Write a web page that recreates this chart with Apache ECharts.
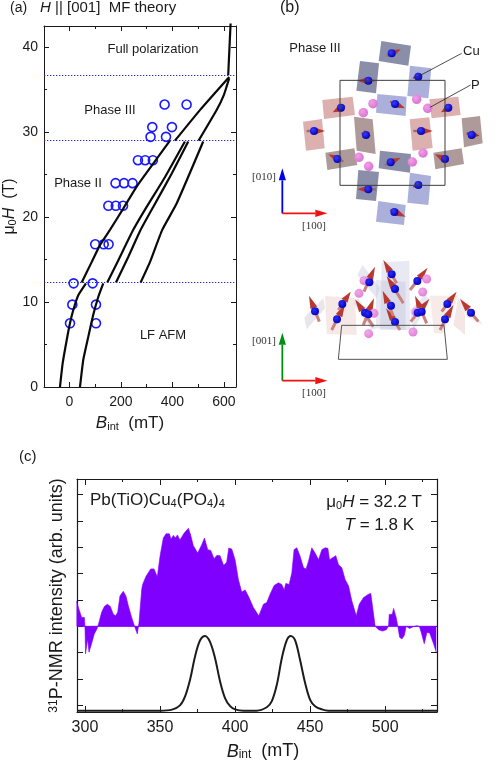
<!DOCTYPE html>
<html>
<head>
<meta charset="utf-8">
<title>Pb(TiO)Cu4(PO4)4 MF theory and NMR</title>
<script src="https://cdn.jsdelivr.net/npm/echarts@6/dist/echarts.min.js"></script>
<style>
  html, body { margin: 0; padding: 0; background: #fff; }
  #chart { width: 499px; height: 762px; }
</style>
</head>
<body>
<div id="chart"></div>
<script>
/******** panel (a) : B_int (mT), mu0H (T) ********/
const nmrPeaks = [
  [369.6, 33.25], [455, 33.25], [321.7, 30.6], [398, 30.6], [315, 29.45], [375, 29.45],
  [266, 26.7], [294, 26.7], [324, 26.7], [179, 24], [212, 24], [245, 24],
  [151, 21.33], [180, 21.33], [208, 21.33], [100, 16.8], [133, 16.8], [152, 16.8],
  [16, 12.2], [90, 12.2], [11, 9.7], [103, 9.7], [2, 7.5], [103, 7.5]
]
const fieldLines = [36.7, 29, 12.3]
const lowA = [[-36.9, 0], [-26.4, 2.8], [-10.9, 5.5], [1.9, 7.5], [14.8, 9.06], [34.2, 10.8], [64, 12.2]]
const lowB = [[40.8, 0], [53.6, 3.2], [73, 5.9], [92.4, 8.5], [111.8, 10.6], [131.3, 12.2]]
const midA = [[47.4, 12.3], [86.2, 14.7], [118.4, 16.7], [157.3, 18.5], [208.9, 21], [261, 23.6], [325.4, 26.3], [390.3, 29]]
const midB = [[146.8, 12.3], [189.5, 14.9], [247.8, 18.5], [299.8, 21.2], [370.9, 24.7], [448.5, 28.9]]
const midC = [[180.6, 12.3], [228.3, 15.3], [276.5, 18.5], [325.4, 21.2], [396.9, 25.1], [461.4, 28.9]]
const midD = [[276.5, 12.3], [312.6, 14.7], [360.4, 18.5], [416.3, 21.6], [519.6, 28.9]]
const highA = [[409.7, 29], [506.8, 32.6], [620.6, 36.5]]
const highB = [[501.7, 29], [571.7, 32.6], [600, 34.4], [620.6, 36.35]]
const topLine = [[616.7, 36.7], [619.4, 38.5], [626, 42.8]]

const aXTicks = [0, 200, 400, 600]
const aXMinorTicks = [100, 300, 500]
const aYTicks = [0, 10, 20, 30, 40]
const aYMinorTicks = [5, 15, 25, 35]

/******** panel (c) : B_int (mT), intensity measured from the zero line ********/
const measured = [
  [294.4, .965], [296, .65], [297.8, .34], [299.6, .34], [300, 0], [300.4, -1.04], [301.8, -.48], [302.7, -.98],
  [304.4, -.66], [306.2, -.29], [308, -.1], [309.3, .15], [311.1, .53], [312.9, .75], [314.9, .84], [316.9, .75],
  [318.9, .46], [320.4, .4], [321.8, .53], [323.3, 1.15], [325.5, 1.33], [327.3, 1.15], [328.9, .78], [331.1, .34],
  [333.3, -.04], [334.9, -.29], [336, .15], [337.8, 1.4], [338.4, 1.59], [340.7, 1.9], [343.8, 2.18], [346, 2.18],
  [348.2, 1.88], [350, 2.66], [352.2, 3.35], [354, 3.51], [356.2, 3.51], [357.3, 3.31], [358.9, 3.45], [360.2, 3.35],
  [361.6, 3.47], [363.3, 3.28], [366, 3.53], [368.9, 3.72], [370.4, 3.47], [372.2, 3.06], [375.1, 2.78], [377.8, 3.1],
  [379.6, 3.35], [380.7, 3.35], [381.8, 2.91], [383.8, 2.88], [386, 2.56], [387.8, 2.69], [390, 2.68], [392.4, 2.31],
  [394.4, 2.43], [395.8, 2.97], [397.8, 2.93], [400, 2.53], [402.2, 1.78], [404.4, 1.3], [406.7, 1.38], [409.3, 1.09],
  [412.2, .71], [415.8, .4], [418.9, .84], [421.1, .9], [423.3, 1.22], [426, 1.55], [428.9, 1.65], [431.1, 1.59],
  [432.7, 1.38], [433.8, 1.63], [436, 1.59], [437.8, 2.03], [439.3, 2.91], [441.1, 2.98], [443.3, 2.66], [445.6, 2.22],
  [447.3, 2.18], [448.9, 2.47], [451.1, 2.98], [453.3, 2.78], [455.6, 2.53], [457.8, 2.91], [460, 2.98], [461.8, 2.96],
  [462.9, 2.53], [467.1, 2.68], [468.9, 2.34], [471.1, 2.22], [473.3, 1.78], [475.6, 1.53], [477.8, .96], [480.7, .4],
  [481.6, .36], [482.7, .84], [485.6, 1.09], [488.9, 1.22], [490.4, 1.25], [491.8, .65], [493.3, 0], [495.6, -.13],
  [498.2, -.18], [500.7, -.13], [502.2, 0], [502.7, .45], [504.7, .46], [505.6, .68], [507.3, .34], [508.4, 0],
  [509.6, -.41], [511.1, -.48], [512.7, -.35], [514, 0], [514.9, .05], [516.2, -.08], [518.9, -.01], [521.1, .02],
  [522.7, 0], [524, -.23], [526, -.66], [527.8, -.23], [529.6, -.25], [532.2, -.66], [534, -.98]
]
const simulated = [
  [294.7, -3.2], [350, -3.2], [358, -3.16], [363.3, -3], [366.7, -2.66], [370, -2.03], [373.3, -1.15], [376.7, -.53],
  [380, -.365], [383.3, -.59], [386.7, -1.22], [390, -2.09], [393.3, -2.72], [396.7, -3.03], [400, -3.15], [405.6, -3.2],
  [414.4, -3.2], [421.1, -3.07], [424.4, -2.85], [427.8, -2.22], [431.1, -1.22], [434.4, -.53], [437.1, -.365], [440, -.53],
  [443.3, -1.28], [446.7, -2.16], [450, -2.79], [453.3, -3.03], [457.8, -3.15], [462.2, -3.2], [534.5, -3.2]
]
const zeroLine = [[294.7, 0], [534.5, 0]]

const cXTicks = [300, 350, 400, 450, 500]
const cXMinorTicks = [325, 375, 425, 475, 525]
const cYTicks = [-3, -2, -1, 0, 1, 2, 3, 4, 5]

/******** panel (b), in the units of its own hidden axes ********/
const topSlabs = [
  [424, 123, 513, 137, 505, 197, 416, 183], [360, 183, 417, 190, 408, 280, 349, 272],
  [510, 197, 574, 205, 565, 295, 502, 288], [412, 282, 500, 290, 497, 348, 408, 338],
  [247, 300, 338, 290, 345, 345, 252, 357], [568, 298, 655, 290, 662, 345, 575, 355],
  [189, 365, 246, 357, 254, 445, 198, 452], [342, 350, 398, 358, 407, 462, 350, 452],
  [509, 358, 568, 352, 578, 444, 518, 452], [665, 355, 720, 348, 728, 430, 672, 442],
  [256, 458, 343, 445, 352, 495, 262, 510], [580, 458, 665, 445, 672, 492, 586, 508],
  [420, 452, 513, 462, 510, 518, 416, 505], [355, 510, 417, 516, 408, 603, 348, 597],
  [510, 518, 573, 528, 565, 615, 502, 608], [415, 603, 497, 615, 492, 675, 408, 665]
]
const topSlabColors = [
  '#8b8ea8', '#8b8ea8', '#abb0db', '#abb0db', '#dcb0ae', '#dcb0ae', '#dcb0ae', '#ae9a98',
  '#dcb0ae', '#ae9a98', '#ae9a98', '#ae9a98', '#8b8ea8', '#8b8ea8', '#abb0db', '#abb0db'
]
const topCell = [[300, 241], [615, 241], [615, 556], [300, 556], [300, 241]]
const topCu = [
  [455, 160], [385, 242], [535, 230], [465, 312], [303, 323], [625, 323], [222, 393], [378, 405],
  [543, 393], [695, 405], [292, 477], [615, 477], [452, 487], [385, 568], [535, 555], [463, 636]
]
const topP = [[399, 311], [370, 338], [530, 298], [563, 325], [357, 472], [386, 499], [549, 459], [517, 486]]
const topMoments = [
  [440, 168, 482, 148], [405, 242, 352, 242], [450, 305, 495, 325], [315, 318, 278, 337],
  [635, 318, 603, 337], [200, 393, 255, 393], [520, 393, 578, 393], [310, 485, 265, 463],
  [625, 483, 585, 463], [435, 495, 482, 473], [408, 568, 352, 568], [450, 630, 497, 650]
]
const topMomentsFront = [[542, 226, 517, 235], [365, 400, 393, 408], [680, 400, 718, 407], [545, 550, 518, 562]]
const cuLeader = [[665, 160], [530, 232]]
const pLeader = [[692, 255], [570, 322]]

const sideSlabs = [
  [425, 97, 508, 92, 510, 300, 420, 300], [408, 150, 497, 155, 497, 300, 408, 295],
  [352, 135, 368, 105, 420, 175, 410, 205], [340, 220, 355, 205, 410, 295, 395, 300],
  [510, 240, 555, 195, 570, 210, 520, 300], [255, 198, 345, 205, 350, 315, 260, 312],
  [193, 262, 250, 205, 255, 235, 200, 298], [570, 197, 655, 197, 610, 310, 582, 310],
  [655, 200, 675, 255, 675, 315, 640, 285], [660, 200, 730, 285, 680, 260, 665, 230]
]
const sideSlabColors = [
  'rgba(205,207,228,.45)', 'rgba(190,192,215,.35)', 'rgba(205,207,228,.5)', 'rgba(205,207,228,.5)',
  'rgba(205,207,228,.5)', 'rgba(235,205,200,.45)', 'rgba(215,210,215,.55)', 'rgba(235,210,205,.45)',
  'rgba(235,210,205,.55)', 'rgba(225,215,215,.55)'
]
const sideCell = [[305, 286], [612, 286], [622, 388], [295, 388], [305, 286]]
const sideCu = [
  [225, 244], [307, 222], [291, 268], [388, 157], [375, 248], [385, 253], [455, 133], [465, 177],
  [453, 227], [465, 276], [532, 153], [533, 248], [545, 245], [622, 222], [615, 268], [693, 248]
]
const sideP = [[372, 152], [560, 147], [357, 190], [548, 186], [402, 250], [528, 246], [386, 311], [519, 306]]
const sideMoments = [
  [238, 275, 207, 197], [275, 300, 315, 222], [295, 240, 332, 185], [372, 185, 405, 110],
  [370, 285, 402, 205], [400, 290, 345, 208], [470, 160, 430, 90], [490, 220, 440, 138],
  [480, 300, 438, 235], [460, 258, 428, 182], [510, 180, 563, 113], [512, 275, 568, 207],
  [560, 280, 525, 197], [600, 300, 640, 225], [605, 245, 650, 185], [715, 275, 660, 207]
]
const topGuides = [[127, 640, 127, 505], [127, 640, 262, 640]]
const topGuideColors = ['#0000ee', '#ee1111']
const sideGuides = [[127, 452, 127, 308], [127, 452, 262, 452]]
const sideGuideColors = ['#009010', '#ee1111']

const sans = '"Liberation Sans", Arial, sans-serif'
const ink = '#1a1a1a'

// 富文本 : 斜体 上下标
function richFor (size) {
  let small = Math.round(size * 0.66)
  return {
    i: { fontStyle: 'italic', fontFamily: sans, fontSize: size, color: ink },
    sub: { fontSize: small, verticalAlign: 'bottom', padding: [Math.round(size * 0.4), 0, 0, 0], fontFamily: sans, color: ink },
    sup: { fontSize: small, verticalAlign: 'top', padding: [0, 0, Math.round(size * 0.4), 0], fontFamily: sans, color: ink }
  }
}

let chartDom = document.getElementById('chart')
let myChart = echarts.init(chartDom, null, { renderer: 'canvas' })

// 四边都有刻度的坐标轴 , 刻度位置来自 tick 列表
function boxAxis (gridIndex, position, range, ticks, opts) {
  return {
    type: 'value',
    gridIndex,
    position,
    min: range[0],
    max: range[1],
    name: opts.name || '',
    nameLocation: 'middle',
    nameGap: opts.nameGap,
    nameRotate: opts.nameRotate,
    nameTextStyle: { color: ink, fontSize: opts.nameSize, fontFamily: sans, padding: opts.namePadding, rich: richFor(opts.nameSize || 14) },
    splitLine: { show: false },
    axisLine: { show: opts.lineWidth > 0, onZero: false, lineStyle: { color: ink, width: opts.lineWidth } },
    axisTick: { show: true, inside: true, length: opts.tick, customValues: ticks, lineStyle: { color: ink, width: 1 } },
    axisLabel: {
      show: !!opts.labelSize,
      customValues: ticks,
      color: ink,
      fontSize: opts.labelSize,
      fontFamily: sans,
      margin: opts.labelMargin
    }
  }
}

function hiddenAxis (gridIndex, min, max, inverse) {
  return { type: 'value', gridIndex, min, max, inverse, show: false, splitLine: { show: false } }
}

// 多边形 : 板块
function slabSeries (name, data, colors, axisIndex) {
  return {
    name,
    type: 'custom',
    xAxisIndex: axisIndex,
    yAxisIndex: axisIndex,
    silent: true,
    data,
    renderItem (params, api) {
      let points = []
      for (let i = 0; i < 8; i += 2) {
        points.push(api.coord([api.value(i), api.value(i + 1)]))
      }
      return { type: 'polygon', shape: { points }, style: { fill: colors[params.dataIndex] } }
    }
  }
}

// 箭头 : 杆 + 锥
function arrowSeries (name, data, axisIndex, look) {
  return {
    name,
    type: 'custom',
    xAxisIndex: axisIndex,
    yAxisIndex: axisIndex,
    silent: true,
    data,
    renderItem (params, api) {
      let a = api.coord([api.value(0), api.value(1)])
      let b = api.coord([api.value(2), api.value(3)])
      let dx = b[0] - a[0]
      let dy = b[1] - a[1]
      let len = Math.hypot(dx, dy)
      let head = Math.min(look.head, len * look.headShare)
      let ux = dx / len
      let uy = dy / len
      let baseX = b[0] - ux * head
      let baseY = b[1] - uy * head
      let color = look.colors ? look.colors[params.dataIndex] : look.color
      return {
        type: 'group',
        children: [
          {
            type: 'line',
            shape: { x1: a[0], y1: a[1], x2: baseX, y2: baseY },
            style: { stroke: look.shaftColor || color, lineWidth: look.shaft }
          },
          {
            type: 'polygon',
            shape: { points: [b, [baseX - uy * look.half, baseY + ux * look.half], [baseX + uy * look.half, baseY - ux * look.half]] },
            style: { fill: color }
          }
        ]
      }
    }
  }
}

function atomSeries (name, data, axisIndex, size, light, dark) {
  return {
    name,
    type: 'scatter',
    xAxisIndex: axisIndex,
    yAxisIndex: axisIndex,
    silent: true,
    symbolSize: size,
    data,
    itemStyle: {
      opacity: 1,
      color: new echarts.graphic.RadialGradient(0.38, 0.35, 0.7, [
        { offset: 0, color: light },
        { offset: 1, color: dark }
      ])
    }
  }
}

function thinLine (name, data, axisIndex, color, width) {
  return {
    name,
    type: 'line',
    xAxisIndex: axisIndex,
    yAxisIndex: axisIndex,
    silent: true,
    showSymbol: false,
    data,
    lineStyle: { color, width }
  }
}

function curve (name, data, clip) {
  return {
    name,
    type: 'line',
    xAxisIndex: 0,
    yAxisIndex: 0,
    data,
    smooth: 0.15,
    clip: clip !== false,
    showSymbol: false,
    silent: true,
    lineStyle: { color: '#0a0a0a', width: 2.2 }
  }
}

function label (x, y, text, size, extra) {
  return {
    type: 'text',
    x,
    y,
    silent: true,
    style: Object.assign({
      text,
      fill: ink,
      fontSize: size,
      fontFamily: sans,
      align: 'left',
      verticalAlign: 'middle',
      rich: richFor(size)
    }, extra || {})
  }
}

let aXRange = [-99, 647]
let aYRange = [0, 42.5]
let cXRange = [294.7, 534.5]
let cYRange = [-3.25, 5.59]

let aMajor = { lineWidth: 1, tick: 5 }
let aMinor = { lineWidth: 0, tick: 3 }
let cMajor = { lineWidth: 1.2, tick: 6 }
let cMinor = { lineWidth: 0, tick: 3 }
let serif = { fontFamily: '"Liberation Serif", serif', fill: '#333' }

let option = {
  animation: false,
  backgroundColor: '#fff',
  grid: [
    { left: 44, top: 26, width: 192, height: 361 },
    { left: 77, top: 479, width: 360, height: 235 },
    { left: 240, top: 0, width: 259, height: 230 },
    { left: 240, top: 230, width: 259, height: 190 }
  ],
  xAxis: [
    boxAxis(0, 'bottom', aXRange, aXTicks, {
      lineWidth: 1, tick: 5, labelSize: 14, labelMargin: 8,
      name: '{i|B}{sub|int}  (mT)', nameGap: 27, nameSize: 17, namePadding: [0, 20, 0, 0]
    }),
    boxAxis(1, 'bottom', cXRange, cXTicks, {
      lineWidth: 1.2, tick: 6, labelSize: 16, labelMargin: 8,
      name: '{i|B}{sub|int}  (mT)', nameGap: 30, nameSize: 18, namePadding: [0, 0, 0, 12]
    }),
    hiddenAxis(2, 0, 777, false),
    hiddenAxis(3, 0, 777, false),
    boxAxis(0, 'top', aXRange, aXTicks, aMajor),
    boxAxis(1, 'top', cXRange, cXTicks, cMajor),
    boxAxis(0, 'bottom', aXRange, aXMinorTicks, aMinor),
    boxAxis(0, 'top', aXRange, aXMinorTicks, aMinor),
    boxAxis(1, 'bottom', cXRange, cXMinorTicks, cMinor),
    boxAxis(1, 'top', cXRange, cXMinorTicks, cMinor)
  ],
  yAxis: [
    boxAxis(0, 'left', aYRange, aYTicks, {
      lineWidth: 1, tick: 5, labelSize: 14, labelMargin: 6,
      name: 'μ{sub|0}{i|H}  (T)', nameGap: 24, nameSize: 16, nameRotate: 90
    }),
    boxAxis(1, 'left', cYRange, cYTicks, {
      lineWidth: 1.2, tick: 6,
      name: '{sup|31}P-NMR intensity (arb. units)', nameGap: 10, nameSize: 18, nameRotate: 90
    }),
    hiddenAxis(2, 0, 690, true),
    hiddenAxis(3, 0, 570, true),
    boxAxis(0, 'right', aYRange, aYTicks, aMajor),
    boxAxis(1, 'right', cYRange, cYTicks, cMajor),
    boxAxis(0, 'left', aYRange, aYMinorTicks, aMinor),
    boxAxis(0, 'right', aYRange, aYMinorTicks, aMinor)
  ],
  series: [
    curve('lowA', lowA),
    curve('lowB', lowB),
    curve('midA', midA),
    curve('midB', midB),
    curve('midC', midC),
    curve('midD', midD),
    curve('highA', highA),
    curve('highB', highB),
    curve('top', topLine, false),
    {
      name: 'NMR',
      type: 'scatter',
      xAxisIndex: 0,
      yAxisIndex: 0,
      silent: true,
      symbolSize: 9,
      data: nmrPeaks,
      itemStyle: { color: 'transparent', borderColor: '#1a1aff', borderWidth: 1.6, opacity: 1 },
      markLine: {
        silent: true,
        symbol: 'none',
        label: { show: false },
        lineStyle: { color: '#2020e0', type: [1.3, 1.7], width: 1.2 },
        data: fieldLines.map((v) => ({ yAxis: v }))
      }
    },
    {
      name: 'measured',
      type: 'line',
      xAxisIndex: 1,
      yAxisIndex: 1,
      data: measured,
      showSymbol: false,
      silent: true,
      lineStyle: { color: '#7f00ff', width: 0.6 },
      areaStyle: { color: '#7f00ff', opacity: 1, origin: 0 }
    },
    thinLine('zero', zeroLine, 1, '#7f00ff', 1),
    {
      name: 'simulated',
      type: 'line',
      xAxisIndex: 1,
      yAxisIndex: 1,
      data: simulated,
      smooth: 0.35,
      showSymbol: false,
      silent: true,
      lineStyle: { color: '#1c1c1c', width: 2 }
    },

    slabSeries('topSlabs', topSlabs, topSlabColors, 2),
    thinLine('topCell', topCell, 2, '#3c3c3c', 1),
    arrowSeries('topMoments', topMoments, 2, { color: '#b5392f', head: 11, headShare: 0.65, half: 3.8, shaft: 2.4, shaftColor: '#9c6a70' }),
    atomSeries('topCu', topCu, 2, 8, '#3a3aff', '#0000b0'),
    arrowSeries('topMomentsFront', topMomentsFront, 2, { color: '#9c3026', head: 8, headShare: 0.8, half: 4, shaft: 2.4 }),
    atomSeries('topP', topP, 2, 9.5, '#f0a0e8', '#d870d0'),
    thinLine('cuLeader', cuLeader, 2, '#222', 0.8),
    thinLine('pLeader', pLeader, 2, '#222', 0.8),
    arrowSeries('topGuides', topGuides, 2, { colors: topGuideColors, head: 12, headShare: 0.3, half: 3.6, shaft: 1.8 }),

    slabSeries('sideSlabs', sideSlabs, sideSlabColors, 3),
    thinLine('sideCell', sideCell, 3, '#555', 1),
    atomSeries('sideP', sideP, 3, 9, '#f0a8e8', '#e080d8'),
    arrowSeries('sideMoments', sideMoments, 3, { color: '#b8392f', head: 13, headShare: 0.5, half: 3.6, shaft: 3, shaftColor: '#c9827c' }),
    atomSeries('sideCu', sideCu, 3, 8, '#2a2aff', '#0000b8'),
    arrowSeries('sideGuides', sideGuides, 3, { colors: sideGuideColors, head: 12, headShare: 0.3, half: 3.6, shaft: 1.8 })
  ],
  graphic: [
    label(10, 8, '(a)', 14),
    label(40, 8, '{i|H} || [001]  MF theory', 15),
    label(280, 8, '(b)', 16),
    label(19, 457, '(c)', 15),
    label(153, 49, 'Full polarization', 13, { align: 'center' }),
    label(110, 110, 'Phase III', 13, { align: 'center' }),
    label(78, 183, 'Phase II', 13, { align: 'center' }),
    label(163, 335, 'LF AFM', 13, { align: 'center' }),
    label(315, 48, 'Phase III', 13, { align: 'center' }),
    label(463, 51, 'Cu', 13),
    label(471, 85, 'P', 13),
    label(252, 177, '[010]', 11, serif),
    label(302, 226, '[100]', 11, serif),
    label(252, 341, '[001]', 11, serif),
    label(302, 393, '[100]', 11, serif),
    label(90, 500, 'Pb(TiO)Cu{sub|4}(PO{sub|4}){sub|4}', 17),
    label(422, 502, 'μ{sub|0}{i|H} = 32.2 T', 17, { align: 'right' }),
    label(414, 525, '{i|T} = 1.8 K', 17, { align: 'right' })
  ]
}

myChart.setOption(option)
window.addEventListener('resize', () => {
  myChart.resize()
})
</script>
</body>
</html>
